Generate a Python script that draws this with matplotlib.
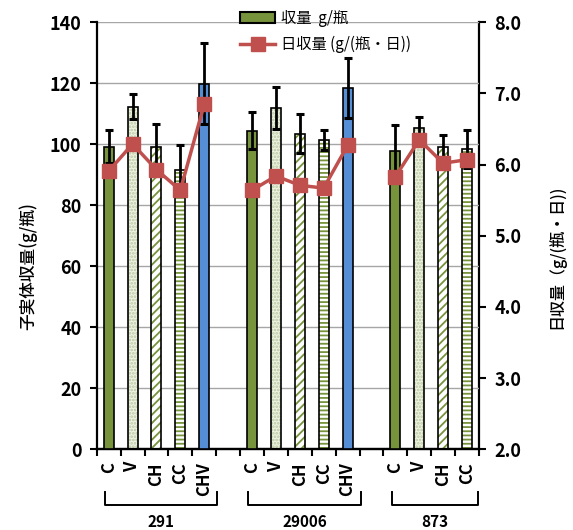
import matplotlib
matplotlib.use("Agg")
import matplotlib.pyplot as plt
import matplotlib.transforms as mtransforms
from matplotlib.patches import Patch
from matplotlib.lines import Line2D

plt.rcParams['font.family'] = ['Noto Sans CJK JP', 'DejaVu Sans']
plt.rcParams['hatch.linewidth'] = 1.3

# データ
groups = ['291', '29006', '873']
treatments = [
    ['C', 'V', 'CH', 'CC', 'CHV'],
    ['C', 'V', 'CH', 'CC', 'CHV'],
    ['C', 'V', 'CH', 'CC'],
]
yield_mean = [
    [99.2, 112.3, 99.2, 91.6, 119.8],
    [104.5, 112.0, 103.4, 101.4, 118.4],
    [97.8, 105.2, 99.0, 98.5],
]
yield_err = [
    [5.4, 4.1, 7.4, 8.2, 13.3],
    [6.2, 6.9, 6.4, 3.3, 9.8],
    [8.5, 3.7, 4.0, 6.2],
]
daily_yield = [
    [5.91, 6.29, 5.93, 5.64, 6.85],
    [5.64, 5.84, 5.71, 5.67, 6.27],
    [5.83, 6.35, 6.02, 6.07],
]

# 処理ごとの塗り: (背景色, ハッチ, ハッチ色)
styles = {
    'C': ('#77933C', None, None),
    'V': ('#EEF3E2', '.....', '#B9C7A0'),
    'CH': ('white', '////', '#77933C'),
    'CC': ('white', '----', '#77933C'),
    'CHV': ('#558ED5', None, None),
}

GREEN = '#77933C'
RED = '#C0504D'
slot_gap = 1  # グループ間の空き

fig = plt.figure(figsize=(5.73, 5.30), dpi=100)
ax = fig.add_axes([0.1688, 0.1523, 0.6671, 0.8056])
ax2 = ax.twinx()

ax.set_zorder(1)
ax.patch.set_visible(False)
ax2.set_zorder(0)

trans = mtransforms.blended_transform_factory(ax.transData, ax.transAxes)

start = 0
line_x = []
for g, names in enumerate(treatments):
    xs = [start + i for i in range(len(names))]
    for x, name, h, e in zip(xs, names, yield_mean[g], yield_err[g]):
        face, hatch, hcol = styles[name]
        if hatch:
            ax.bar(x, h, width=0.42, color=face, hatch=hatch,
                   edgecolor=hcol, linewidth=0, zorder=2)
            ax.bar(x, h, width=0.42, fill=False, edgecolor='black',
                   linewidth=1.2, zorder=3)
        else:
            ax.bar(x, h, width=0.42, color=face, edgecolor='black',
                   linewidth=1.2, zorder=3)
        ax.errorbar(x, h, yerr=e, fmt='none', ecolor='black',
                    elinewidth=2, capsize=3, capthick=2.2, zorder=4)
        ax.text(x, -0.03, name, transform=trans, rotation=90,
                ha='center', va='top', fontsize=12, fontweight='bold')
    line_x.append(xs)

    # 括弧とグループ名
    x0 = xs[0] - 0.15
    x1 = min(xs[-1] + 0.55, 15.45)
    ax.plot([x0, x0, x1, x1], [-0.1, -0.13, -0.13, -0.1], color='black',
            lw=1.4, transform=trans, clip_on=False)
    ax.text((x0 + x1) / 2, -0.17, groups[g], transform=trans,
            ha='center', va='center', fontsize=11, fontweight='bold')
    start += len(names) + slot_gap

# 日収量の折れ線 (右軸に合わせて左軸座標へ変換して前面に描く)
def to_left(v):
    return (v - 2.0) / 6.0 * 140

for g, xs in enumerate(line_x):
    ax.plot(xs, [to_left(v) for v in daily_yield[g]], color=RED, lw=2.5,
            marker='s', markersize=9.5, zorder=5)

n_slots = 16
ax.set_xlim(-0.5, n_slots - 0.5)
ax.set_xticks([i - 0.5 for i in range(n_slots + 1)])
ax.set_xticklabels([])
ax.set_ylim(0, 140)
ax.set_yticks(range(0, 141, 20))
ax.grid(axis='y', color='#A6A6A6', lw=1)
ax.set_axisbelow(True)
ax2.set_ylim(2.0, 8.0)
ax2.set_yticks([2, 3, 4, 5, 6, 7, 8])
ax2.set_yticklabels([f'{v:.1f}' for v in range(2, 9)])

for a in (ax, ax2):
    a.spines['top'].set_visible(False)
    for s in a.spines.values():
        s.set_linewidth(1.6)
    a.tick_params(width=1.5, length=5, labelsize=13, pad=6)
    for lbl in a.get_yticklabels():
        lbl.set_fontweight('bold')
ax2.spines['left'].set_visible(False)
ax.spines['right'].set_visible(False)

ax.set_ylabel('子実体収量(g/瓶)', fontsize=12, fontweight='medium')
ax.yaxis.set_label_coords(-0.155, 0.43)
ax2.set_ylabel('日収量（g/(瓶・日))', fontsize=11.5, fontweight='medium',
               rotation=90)
ax2.yaxis.set_label_coords(1.18, 0.45)

handles = [
    Patch(facecolor=GREEN, edgecolor='black', linewidth=1.5, label='収量  g/瓶'),
    Line2D([], [], color=RED, lw=2.5, marker='s', markersize=9.5,
           label='日収量 (g/(瓶・日))'),
]
fig.legend(handles=handles, loc='upper left', bbox_to_anchor=(0.395, 1.008),
           frameon=False, fontsize=11, handlelength=2.3, labelspacing=0.6,
           handletextpad=0.4)

fig.savefig('out.png', dpi=100)
